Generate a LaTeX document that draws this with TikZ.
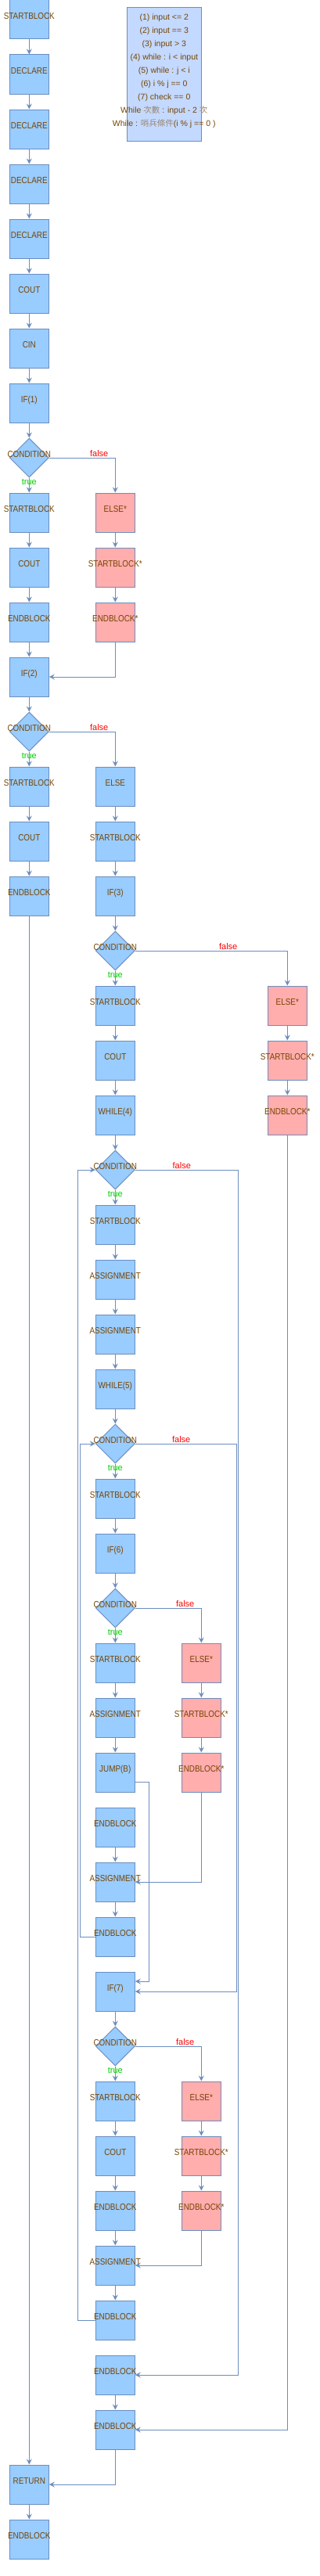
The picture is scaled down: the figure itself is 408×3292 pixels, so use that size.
\documentclass[tikz,border=0pt]{standalone}
\usepackage{fontspec}
\usepackage{graphicx}
\setmainfont{Liberation Sans}
\newfontfamily\cjk{Noto Sans CJK TC}
\usetikzlibrary{shapes.geometric,arrows.meta}
\definecolor{bfill}{HTML}{99CCFF}
\definecolor{pfill}{HTML}{FFADAD}
\definecolor{lc}{HTML}{6C8EBF}
\definecolor{tc}{HTML}{774400}
\definecolor{lgfill}{HTML}{C3D9FF}
\definecolor{tgreen}{HTML}{00CC00}
\definecolor{fred}{HTML}{FF0000}
\definecolor{cjkc}{HTML}{9C8670}
\newcommand\bt[1]{\makebox[0pt]{\scalebox{0.86}[1]{#1}}}
\newcommand\zh[1]{{\cjk\color{cjkc}#1}}
\begin{document}
\begin{tikzpicture}[x=1pt,y=-1pt,
  blk/.style={rectangle,draw=lc,fill=bfill,line width=1pt,minimum width=50pt,minimum height=50pt,inner sep=0pt,text height=0pt,text depth=1.8pt,text=tc,font=\fontsize{11.5}{13}\selectfont},
  pblk/.style={blk,fill=pfill},
  cond/.style={diamond,aspect=1,draw=lc,fill=bfill,line width=1pt,minimum width=50pt,minimum height=50pt,inner sep=0pt,text height=0pt,text depth=1.8pt,text=tc,font=\fontsize{11.5}{13}\selectfont},
  conn/.style={draw=lc,line width=1pt,-{Stealth[length=7pt,width=7pt,inset=2.5pt]}},
  line/.style={draw=lc,line width=1pt},
  tl/.style={text=tgreen,font=\fontsize{11}{13}\selectfont,inner sep=0pt},
  fl/.style={text=fred,font=\fontsize{11}{13}\selectfont,inner sep=0pt},
  legend/.style={rectangle,draw=lc,fill=lgfill,line width=1pt,minimum width=95pt,minimum height=170.3pt,inner sep=0pt},
  legtxt/.style={text=tc,align=center,inner sep=0pt,font=\fontsize{10.5}{17}\selectfont}
]
\useasboundingbox (0,0) rectangle (408,3292);

% legend
\node[legend] (lg) at (209.8,95.15) {};
\node[legtxt] (lgt) at (209.8,90.3) {(1) input <= 2\\(2) input == 3\\(3) input > 3\\(4) while : i < input\\(5) while : j < i\\(6) i \% j == 0\\(7) check == 0\\While \zh{次數} : input - 2 \zh{次}\\While : \zh{哨兵條件}(i \% j == 0 )};

% column 1
\node[blk] (s0) at (37.3,25) {\bt{STARTBLOCK}};
\node[blk] (dc1) at (37.3,95) {\bt{DECLARE}};
\node[blk] (dc2) at (37.3,165) {\bt{DECLARE}};
\node[blk] (dc3) at (37.3,235) {\bt{DECLARE}};
\node[blk] (dc4) at (37.3,305) {\bt{DECLARE}};
\node[blk] (cout1) at (37.3,375) {\bt{COUT}};
\node[blk] (cin) at (37.3,445) {\bt{CIN}};
\node[blk] (if1) at (37.3,515) {\bt{IF(1)}};
\node[cond] (c1) at (37.3,585) {\bt{CONDITION}};
\node[blk] (sb1) at (37.3,655) {\bt{STARTBLOCK}};
\node[blk] (cout2) at (37.3,725) {\bt{COUT}};
\node[blk] (eb1) at (37.3,795) {\bt{ENDBLOCK}};
\node[blk] (if2) at (37.3,865) {\bt{IF(2)}};
\node[cond] (c2) at (37.3,935) {\bt{CONDITION}};
\node[blk] (sb2) at (37.3,1005) {\bt{STARTBLOCK}};
\node[blk] (cout3) at (37.3,1075) {\bt{COUT}};
\node[blk] (eb2) at (37.3,1145) {\bt{ENDBLOCK}};
\node[blk] (ret) at (37.3,3175) {\bt{RETURN}};
\node[blk] (ebf) at (37.3,3245) {\bt{ENDBLOCK}};

% column 2
\node[pblk] (else1) at (147.3,655) {\bt{ELSE*}};
\node[pblk] (sbs1) at (147.3,725) {\bt{STARTBLOCK*}};
\node[pblk] (ebs1) at (147.3,795) {\bt{ENDBLOCK*}};
\node[blk] (else2) at (147.3,1005) {\bt{ELSE}};
\node[blk] (sb3) at (147.3,1075) {\bt{STARTBLOCK}};
\node[blk] (if3) at (147.3,1145) {\bt{IF(3)}};
\node[cond] (c3) at (147.3,1215) {\bt{CONDITION}};
\node[blk] (sb4) at (147.3,1285) {\bt{STARTBLOCK}};
\node[blk] (cout4) at (147.3,1355) {\bt{COUT}};
\node[blk] (wh4) at (147.3,1425) {\bt{WHILE(4)}};
\node[cond] (c4) at (147.3,1495) {\bt{CONDITION}};
\node[blk] (sb5) at (147.3,1565) {\bt{STARTBLOCK}};
\node[blk] (as1) at (147.3,1635) {\bt{ASSIGNMENT}};
\node[blk] (as2) at (147.3,1705) {\bt{ASSIGNMENT}};
\node[blk] (wh5) at (147.3,1775) {\bt{WHILE(5)}};
\node[cond] (c5) at (147.3,1845) {\bt{CONDITION}};
\node[blk] (sb6) at (147.3,1915) {\bt{STARTBLOCK}};
\node[blk] (if6) at (147.3,1985) {\bt{IF(6)}};
\node[cond] (c6) at (147.3,2055) {\bt{CONDITION}};
\node[blk] (sb7) at (147.3,2125) {\bt{STARTBLOCK}};
\node[blk] (as3) at (147.3,2195) {\bt{ASSIGNMENT}};
\node[blk] (jmp) at (147.3,2265) {\bt{JUMP(B)}};
\node[blk] (eb3) at (147.3,2335) {\bt{ENDBLOCK}};
\node[blk] (as4) at (147.3,2405) {\bt{ASSIGNMENT}};
\node[blk] (eb4) at (147.3,2475) {\bt{ENDBLOCK}};
\node[blk] (if7) at (147.3,2545) {\bt{IF(7)}};
\node[cond] (c7) at (147.3,2615) {\bt{CONDITION}};
\node[blk] (sb8) at (147.3,2685) {\bt{STARTBLOCK}};
\node[blk] (cout5) at (147.3,2755) {\bt{COUT}};
\node[blk] (eb5) at (147.3,2825) {\bt{ENDBLOCK}};
\node[blk] (as5) at (147.3,2895) {\bt{ASSIGNMENT}};
\node[blk] (eb6) at (147.3,2965) {\bt{ENDBLOCK}};
\node[blk] (eb7) at (147.3,3035) {\bt{ENDBLOCK}};
\node[blk] (eb8) at (147.3,3105) {\bt{ENDBLOCK}};

% column 3
\node[pblk] (else3) at (257.3,2125) {\bt{ELSE*}};
\node[pblk] (sbs3) at (257.3,2195) {\bt{STARTBLOCK*}};
\node[pblk] (ebs3) at (257.3,2265) {\bt{ENDBLOCK*}};
\node[pblk] (else4) at (257.3,2685) {\bt{ELSE*}};
\node[pblk] (sbs4) at (257.3,2755) {\bt{STARTBLOCK*}};
\node[pblk] (ebs4) at (257.3,2825) {\bt{ENDBLOCK*}};

% column 4
\node[pblk] (else5) at (367.3,1285) {\bt{ELSE*}};
\node[pblk] (sbs5) at (367.3,1355) {\bt{STARTBLOCK*}};
\node[pblk] (ebs5) at (367.3,1425) {\bt{ENDBLOCK*}};

% straight connectors
\foreach \a/\b in {s0/dc1,dc1/dc2,dc2/dc3,dc3/dc4,dc4/cout1,cout1/cin,cin/if1,if1/c1,c1/sb1,sb1/cout2,cout2/eb1,eb1/if2,if2/c2,c2/sb2,sb2/cout3,cout3/eb2,eb2/ret,ret/ebf,
  else1/sbs1,sbs1/ebs1,else2/sb3,sb3/if3,if3/c3,c3/sb4,sb4/cout4,cout4/wh4,wh4/c4,c4/sb5,sb5/as1,as1/as2,as2/wh5,wh5/c5,c5/sb6,sb6/if6,if6/c6,c6/sb7,sb7/as3,as3/jmp,
  eb3/as4,as4/eb4,if7/c7,c7/sb8,sb8/cout5,cout5/eb5,eb5/as5,as5/eb6,eb7/eb8,
  else3/sbs3,sbs3/ebs3,else4/sbs4,sbs4/ebs4,else5/sbs5,sbs5/ebs5}
  \draw[conn] (\a) -- (\b);

% false branches
\draw[conn] (c1.east) -| (else1.north);
\draw[conn] (c2.east) -| (else2.north);
\draw[conn] (c3.east) -| (else5.north);
\draw[conn] (c6.east) -| (else3.north);
\draw[conn] (c7.east) -| (else4.north);

% joins
\draw[conn] (ebs1.south) |- (if2.east);
\draw[conn] (ebs3.south) |- (as4.east);
\draw[conn] (ebs4.south) |- (as5.east);
\draw[conn] (ebs5.south) |- (eb8.east);
\draw[conn] (eb8.south) |- (ret.east);

% loops
\draw[conn] (c4.east) -| ([xshift=132pt]eb7.east) -- (eb7.east);
\draw[conn] (c5.east) -| ([xshift=129.4pt]if7.east) -- (if7.east);
\draw[conn] ([yshift=-12pt]jmp.east) -| ([xshift=18pt,yshift=13pt]if7.east) -- ([yshift=13pt]if7.east);
\draw[conn] (eb4.west) -| ([xshift=-19pt]c5.west) -- (c5.west);
\draw[conn] (eb6.west) -| ([xshift=-22.3pt]c4.west) -- (c4.west);

% labels
\node[tl] (t1) at ([yshift=-5pt]c1.south) {true};
\node[tl] (t2) at ([yshift=-5pt]c2.south) {true};
\node[tl] (t3) at ([yshift=-5pt]c3.south) {true};
\node[tl] (t4) at ([yshift=-5pt]c4.south) {true};
\node[tl] (t5) at ([yshift=-5pt]c5.south) {true};
\node[tl] (t6) at ([yshift=-5pt]c6.south) {true};
\node[tl] (t7) at ([yshift=-5pt]c7.south) {true};
\node[fl] (f1) at (126.7,580) {false};
\node[fl] (f2) at (126.7,930) {false};
\node[fl] (f3) at (291.7,1210) {false};
\node[fl] (f4) at (232.3,1490) {false};
\node[fl] (f5) at (231.7,1840) {false};
\node[fl] (f6) at (236.7,2050) {false};
\node[fl] (f7) at (236.7,2610) {false};
\end{tikzpicture}
\end{document}
